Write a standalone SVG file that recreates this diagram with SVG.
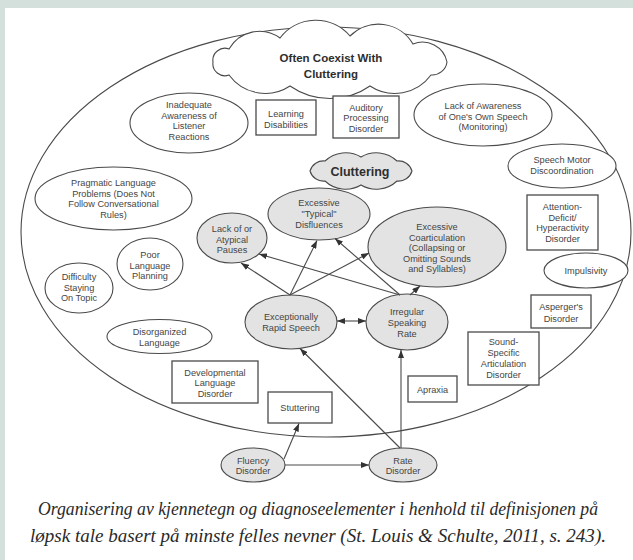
<svg xmlns="http://www.w3.org/2000/svg" width="633" height="560" viewBox="0 0 633 560">
<style>
.bg{fill:#d3e0db}
.panel{fill:#ffffff}
.ol{fill:#ffffff;stroke:#4a4a4a;stroke-width:1.1}
.gr{fill:#e3e3e3;stroke:#4a4a4a;stroke-width:1.1}
.bx{fill:#ffffff;stroke:#4a4a4a;stroke-width:1.3}
.t{font-family:"Liberation Sans",Arial,sans-serif;font-size:9.2px;fill:#454545;text-anchor:middle}
.tb{font-family:"Liberation Sans",Arial,sans-serif;font-weight:bold;fill:#2e2e2e;text-anchor:middle}
.cap{font-family:"Liberation Serif","Times New Roman",serif;font-style:italic;font-size:18px;fill:#2a2a2a;text-anchor:middle}
.ln{fill:none;stroke:#4a4a4a;stroke-width:1.1}
</style>
<defs>
<marker id="ah" viewBox="0 0 8 6" refX="8" refY="3" markerWidth="8" markerHeight="6" markerUnits="userSpaceOnUse" orient="auto-start-reverse">
<path d="M0,0 L8,3 L0,6 z" fill="#333"/>
</marker>
</defs>
<rect class="bg" x="0" y="0" width="633" height="560"/>
<rect class="panel" x="5" y="8" width="628" height="552"/>

<g id="outer">
<ellipse class="ol" cx="326" cy="232" rx="305" ry="205" fill="none"/>
</g>

<g id="coexist">
<path class="ol" d="M447,62 A15,15 0 0 1 431,75 A45,45 0 0 1 370,86 A70,70 0 0 1 290,86 A45,45 0 0 1 229,75 A12,12 0 0 1 213,62 A12,12 0 0 1 229,49 A35,35 0 0 1 280,38 A45,45 0 0 1 350,36 A40,40 0 0 1 413,44 A25,25 0 0 1 447,62 Z"/>
<text class="tb" font-size="11.5" x="331" y="62">Often Coexist With</text>
<text class="tb" font-size="11.5" x="331" y="78">Cluttering</text>
</g>

<g id="inadequate">
<ellipse class="ol" cx="189" cy="123" rx="59" ry="30"/>
<text class="t" x="189" y="108">Inadequate</text>
<text class="t" x="189" y="118.5">Awareness of</text>
<text class="t" x="189" y="129">Listener</text>
<text class="t" x="189" y="139.5">Reactions</text>
</g>

<g id="learning">
<rect class="bx" x="256" y="100" width="60" height="35"/>
<text class="t" x="286" y="116.5">Learning</text>
<text class="t" x="286" y="127.5">Disabilities</text>
</g>

<g id="auditory">
<rect class="bx" x="333" y="96" width="66" height="42"/>
<text class="t" x="366" y="110.5">Auditory</text>
<text class="t" x="366" y="121">Processing</text>
<text class="t" x="366" y="131.5">Disorder</text>
</g>

<g id="lackawareness">
<ellipse class="ol" cx="483" cy="115" rx="69" ry="31"/>
<text class="t" x="483" y="109">Lack of Awareness</text>
<text class="t" x="483" y="119.5">of One's Own Speech</text>
<text class="t" x="483" y="130">(Monitoring)</text>
</g>

<g id="cluttering">
<path class="gr" d="M412,171 A14,14 0 0 1 397,181 A30,30 0 0 1 361,185 A30,30 0 0 1 325,181 A14,14 0 0 1 310,171 A14,14 0 0 1 325,161 A30,30 0 0 1 361,157 A30,30 0 0 1 397,161 A14,14 0 0 1 412,171 Z"/>
<text class="tb" font-size="12.5" x="360" y="175.5">Cluttering</text>
</g>

<g id="speechmotor">
<ellipse class="ol" cx="562" cy="166" rx="54" ry="22"/>
<text class="t" x="562" y="163">Speech Motor</text>
<text class="t" x="562" y="174">Discoordination</text>
</g>

<g id="pragmatic">
<ellipse class="ol" cx="113.5" cy="198.5" rx="78.5" ry="31.5"/>
<text class="t" x="113.5" y="186">Pragmatic Language</text>
<text class="t" x="113.5" y="196.5">Problems (Does Not</text>
<text class="t" x="113.5" y="207">Follow Conversational</text>
<text class="t" x="113.5" y="217.5">Rules)</text>
</g>

<g id="typical">
<ellipse class="gr" cx="319" cy="214" rx="51" ry="26"/>
<text class="t" x="319" y="206">Excessive</text>
<text class="t" x="319" y="217">"Typical"</text>
<text class="t" x="319" y="228">Disfluences</text>
</g>

<g id="adhd">
<rect class="bx" x="527" y="195" width="71" height="55"/>
<text class="t" x="562.5" y="210">Attention-</text>
<text class="t" x="562.5" y="220.5">Deficit/</text>
<text class="t" x="562.5" y="231">Hyperactivity</text>
<text class="t" x="562.5" y="241.5">Disorder</text>
</g>

<g id="pauses">
<ellipse class="gr" cx="232" cy="238" rx="35" ry="25"/>
<text class="t" x="232" y="232">Lack of or</text>
<text class="t" x="232" y="242.5">Atypical</text>
<text class="t" x="232" y="253">Pauses</text>
</g>

<g id="coarticulation">
<ellipse class="gr" cx="437" cy="247" rx="69" ry="40"/>
<text class="t" x="437" y="230">Excessive</text>
<text class="t" x="437" y="240.5">Coarticulation</text>
<text class="t" x="437" y="251">(Collapsing or</text>
<text class="t" x="437" y="261.5">Omitting Sounds</text>
<text class="t" x="437" y="272">and Syllables)</text>
</g>

<g id="planning">
<ellipse class="ol" cx="150" cy="264" rx="33" ry="26"/>
<text class="t" x="150" y="258">Poor</text>
<text class="t" x="150" y="268.5">Language</text>
<text class="t" x="150" y="279">Planning</text>
</g>

<g id="topic">
<ellipse class="ol" cx="79" cy="288" rx="34" ry="25"/>
<text class="t" x="79" y="280">Difficulty</text>
<text class="t" x="79" y="290.5">Staying</text>
<text class="t" x="79" y="301">On Topic</text>
</g>

<g id="impulsivity">
<ellipse class="ol" cx="586" cy="270.5" rx="42" ry="17.5"/>
<text class="t" x="586" y="274">Impulsivity</text>
</g>

<g id="rapid">
<ellipse class="gr" cx="291" cy="322" rx="46" ry="27"/>
<text class="t" x="291" y="320">Exceptionally</text>
<text class="t" x="291" y="331">Rapid Speech</text>
</g>

<g id="irregular">
<ellipse class="gr" cx="407" cy="322" rx="41" ry="28"/>
<text class="t" x="407" y="315">Irregular</text>
<text class="t" x="407" y="326">Speaking</text>
<text class="t" x="407" y="336.5">Rate</text>
</g>

<g id="asperger">
<rect class="bx" x="531" y="295" width="60" height="33"/>
<text class="t" x="561" y="310">Asperger's</text>
<text class="t" x="561" y="321.5">Disorder</text>
</g>

<g id="disorganized">
<ellipse class="ol" cx="159.5" cy="336.5" rx="52.5" ry="17"/>
<text class="t" x="159.5" y="335">Disorganized</text>
<text class="t" x="159.5" y="346">Language</text>
</g>

<g id="soundspecific">
<rect class="bx" x="468" y="332" width="71" height="53"/>
<text class="t" x="503.5" y="345">Sound-</text>
<text class="t" x="503.5" y="356">Specific</text>
<text class="t" x="503.5" y="367">Articulation</text>
<text class="t" x="503.5" y="377.5">Disorder</text>
</g>

<g id="developmental">
<rect class="bx" x="172" y="361" width="86" height="42"/>
<text class="t" x="215" y="375.5">Developmental</text>
<text class="t" x="215" y="386">Language</text>
<text class="t" x="215" y="396.5">Disorder</text>
</g>

<g id="apraxia">
<rect class="bx" x="408" y="376" width="49" height="26"/>
<text class="t" x="432.5" y="392.5">Apraxia</text>
</g>

<g id="stuttering">
<rect class="bx" x="268" y="392" width="64" height="31"/>
<text class="t" x="300" y="410.5">Stuttering</text>
</g>

<g id="fluency">
<ellipse class="gr" cx="253" cy="465" rx="32" ry="17"/>
<text class="t" x="253" y="463.5">Fluency</text>
<text class="t" x="253" y="474">Disorder</text>
</g>

<g id="rate">
<ellipse class="gr" cx="403" cy="465" rx="34" ry="17"/>
<text class="t" x="403" y="463.5">Rate</text>
<text class="t" x="403" y="474">Disorder</text>
</g>

<g id="connectors">
<line class="ln" x1="290" y1="295" x2="241" y2="263" marker-end="url(#ah)"/>
<line class="ln" x1="290" y1="295" x2="317" y2="240.5" marker-end="url(#ah)"/>
<line class="ln" x1="290" y1="295" x2="369" y2="253" marker-end="url(#ah)"/>
<line class="ln" x1="400" y1="295" x2="259" y2="254" marker-end="url(#ah)"/>
<line class="ln" x1="400" y1="295" x2="335" y2="238.5" marker-end="url(#ah)"/>
<line class="ln" x1="410" y1="295" x2="420" y2="286" marker-end="url(#ah)"/>
<line class="ln" x1="337" y1="321" x2="366" y2="321" marker-start="url(#ah)" marker-end="url(#ah)"/>
<line class="ln" x1="400" y1="448" x2="300" y2="348.5" marker-end="url(#ah)"/>
<line class="ln" x1="401" y1="448" x2="401" y2="350" marker-end="url(#ah)"/>
<line class="ln" x1="285" y1="465" x2="369" y2="465" marker-end="url(#ah)"/>
<line class="ln" x1="284" y1="459" x2="299" y2="423.5" marker-end="url(#ah)"/>
</g>

<g id="caption">
<text class="cap" x="318" y="515" textLength="560" lengthAdjust="spacingAndGlyphs">Organisering av kjennetegn og diagnoseelementer i henhold til definisjonen på</text>
<text class="cap" x="318" y="542" textLength="576" lengthAdjust="spacingAndGlyphs">løpsk tale basert på minste felles nevner (St. Louis &amp; Schulte, 2011, s. 243).</text>
</g>
</svg>
